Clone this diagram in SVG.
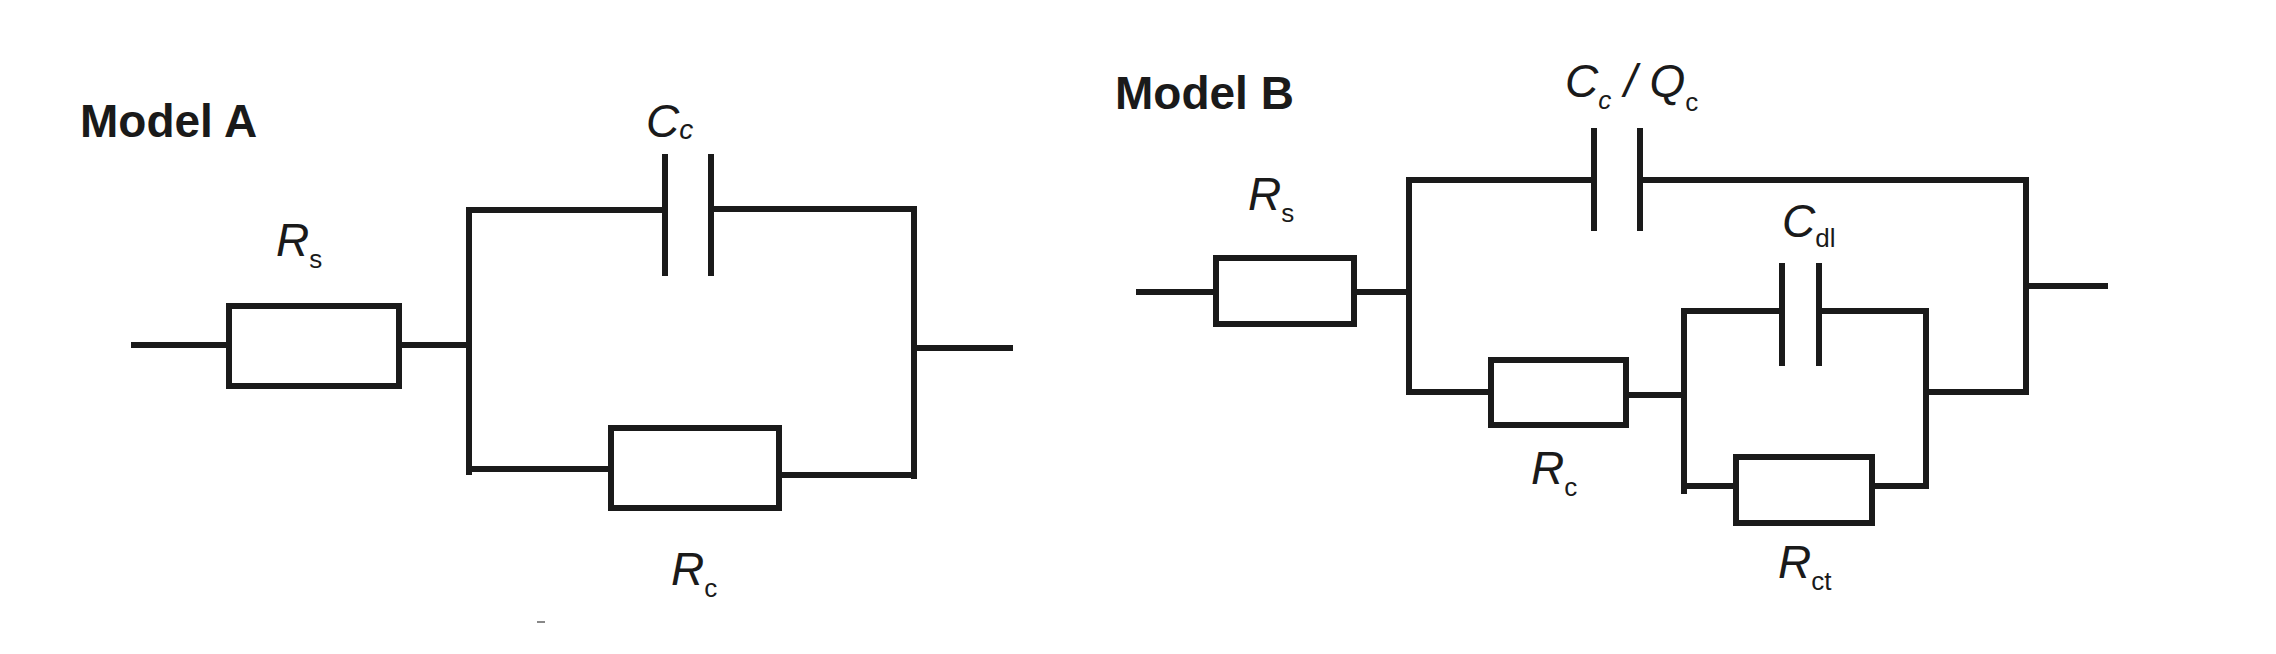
<svg xmlns="http://www.w3.org/2000/svg" width="2276" height="654" viewBox="0 0 2276 654">
<style>
.w{stroke:#1a1a1a;stroke-width:6;fill:none;stroke-linecap:square}
.r{stroke:#1a1a1a;stroke-width:6;fill:#fff}
.t{font-family:"Liberation Sans",Arial,sans-serif;fill:#1a1a1a}
.i{font-style:italic;font-size:46px}
.s{font-size:26px;font-style:normal}
.h{font-size:46px;font-weight:bold}
</style>
<rect width="2276" height="654" fill="#fff"/>
<text class="t h" x="80" y="137">Model A</text>
<text class="t h" x="1115" y="109">Model B</text>
<g id="connectors">
<path class="w" d="M134 345H229M399 345H469M469 210V472M469 210H665M711 209H914M914 209V476M914 348H1010M469 469H611M779 475H914"/>
<path class="w" d="M665 157V273M711 157V273"/>
<path class="w" d="M1139 292H1216M1354 292H1409M1409 180V392M1409 180H1594M1640 180H2026M2026 180V392M2026 286H2105M1409 392H1491M1626 395H1684M1684 311V491M1684 311H1782M1819 311H1926M1926 311V486M1926 392H2026M1684 486H1736M1872 486H1926"/>
<path class="w" d="M1594 131V228M1640 131V228M1782 266V363M1819 266V363"/>
</g>
<g id="A_Rs"><rect class="r" x="229" y="306" width="170" height="80"/><text class="t i" x="276" y="256">R<tspan class="s" dy="12">s</tspan></text></g>
<g id="A_Cc"><text class="t i" x="646" y="137">C<tspan font-size="28" dy="2">c</tspan></text></g>
<g id="A_Rc"><rect class="r" x="611" y="428" width="168" height="80"/><text class="t i" x="671" y="585">R<tspan class="s" dy="12">c</tspan></text></g>
<g id="B_Rs"><rect class="r" x="1216" y="258" width="138" height="66"/><text class="t i" x="1248" y="210">R<tspan class="s" dy="12">s</tspan></text></g>
<g id="B_Cc"><text class="t i" x="1565" y="97">C<tspan font-size="26" dy="12">c</tspan><tspan dy="-12"> / Q</tspan><tspan class="s" dy="14">c</tspan></text></g>
<g id="B_Cdl"><text class="t i" x="1782" y="237">C<tspan class="s" dy="10">dl</tspan></text></g>
<g id="B_Rc"><rect class="r" x="1491" y="360" width="135" height="65"/><text class="t i" x="1531" y="484">R<tspan class="s" dy="12">c</tspan></text></g>
<g id="B_Rct"><rect class="r" x="1736" y="457" width="136" height="66"/><text class="t i" x="1778" y="578">R<tspan class="s" dy="12">ct</tspan></text></g>
<rect x="537" y="621" width="8" height="2" fill="#888"/>
</svg>
